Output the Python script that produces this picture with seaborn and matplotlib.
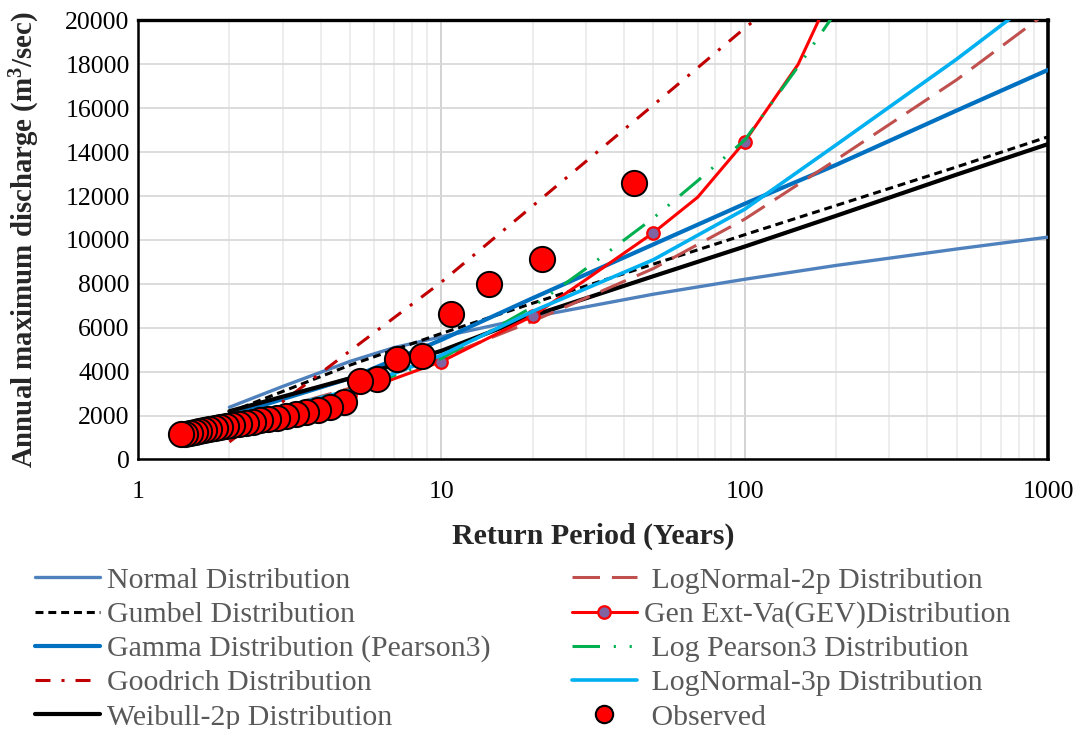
import numpy as np
import pandas as pd
import matplotlib
matplotlib.use("Agg")
import matplotlib.pyplot as plt
from matplotlib.lines import Line2D
from matplotlib.ticker import FixedLocator, NullFormatter
import seaborn as sns

# Return periods (years) at which the fitted distributions are evaluated
return_periods = [2, 5, 10, 20, 50, 100, 200, 500, 1000]
normal_periods = [2, 3, 5, 7, 10, 20, 50, 100, 200, 500, 1000]
gev_periods = [2, 5, 10, 20, 30, 50, 70, 100, 150, 200]
lp3_periods = [2, 5, 10, 20, 30, 50, 70, 100, 150, 200]
gev_marked_periods = [2, 5, 10, 20, 50, 100, 200]

# Fitted discharge quantiles (m3/s)
normal_q = [2380, 3330, 4470, 5100, 5590, 6500, 7530, 8210, 8840, 9590, 10130]
gumbel_q = [2150, 4300, 5740, 7120, 8900, 10240, 11570, 13330, 14700]
gamma_q = [2000, 3700, 5450, 7350, 9800, 11650, 13420, 15900, 17750]
goodrich_q = [800, 4950, 8080, 11550, 16150, 19650, 23000]
weibull_q = [2200, 3700, 4950, 6550, 8350, 9700, 11100, 12980, 14370]
lognormal2_q = [1700, 3250, 4650, 6300, 8700, 10950, 13650, 17300, 20400]
gev_q = [1650, 2950, 4460, 6540, 8200, 10330, 11950, 14480, 18000, 21700]
logpearson3_q = [1700, 3100, 4600, 6950, 8700, 11000, 12700, 14550, 17900, 20400]
lognormal3_q = [1800, 3150, 4750, 6750, 9100, 11400, 14330, 18240, 21400]

# Observed annual maxima with their return periods (n + 1) / rank
obs_rank = list(range(1, 32))
obs_return_period = [43 / m for m in obs_rank]
obs_discharge = [12600, 9130, 8000, 6650, 4720, 4560, 3670, 3590, 2640, 2370,
                 2240, 2150, 2060, 1980, 1910, 1840, 1780, 1720, 1660, 1610,
                 1560, 1510, 1460, 1420, 1370, 1330, 1290, 1250, 1210, 1180,
                 1150]

x_ticks = [1, 10, 100, 1000]
x_tick_labels = ["1", "10", "100", "1000"]
y_ticks = list(range(0, 20001, 2000))

sns.set_theme(style="white")
plt.rcParams["font.family"] = ["Liberation Serif", "DejaVu Serif"]
plt.rcParams["mathtext.fontset"] = "custom"
plt.rcParams["mathtext.rm"] = "Liberation Serif:bold"
plt.rcParams["mathtext.it"] = "Liberation Serif:bold"

fig = plt.figure(figsize=(10.81, 7.29), dpi=100)
ax = fig.add_axes([0.1277, 0.3697, 0.8418, 0.6022])

gev_marks = [gev_periods.index(t) for t in gev_marked_periods]

series = [
    ("Normal Distribution", normal_periods, normal_q,
     dict(color="#4F81BD", linewidth=2.4, linestyle="-")),
    ("Gumbel Distribution", return_periods, gumbel_q,
     dict(color="black", linewidth=2.2, linestyle=(0, (2.6, 1.6)))),
    ("Gamma Distribution (Pearson3)", return_periods, gamma_q,
     dict(color="#0070C0", linewidth=3.0, linestyle="-")),
    ("Goodrich Distribution", return_periods, goodrich_q,
     dict(color="#C00000", linewidth=2.2, linestyle=(0, (4.9, 3.6, 1.0, 3.6)))),
    ("Weibull-2p Distribution", return_periods, weibull_q,
     dict(color="black", linewidth=3.0, linestyle="-")),
    (" LogNormal-2p Distribution", return_periods, lognormal2_q,
     dict(color="#C0504D", linewidth=2.2, linestyle=(0, (9, 3.9)))),
    ("Gen Ext-Va(GEV)Distribution", gev_periods, gev_q,
     dict(color="#FF0000", linewidth=2.2, linestyle="-", marker="o", markersize=9,
          markerfacecolor="#8064A2", markeredgecolor="#FF0000", markeredgewidth=1.6)),
    (" Log Pearson3 Distribution", lp3_periods, logpearson3_q,
     dict(color="#00B050", linewidth=2.2, linestyle=(0, (9, 4.5, 0.7, 4.5, 0.7, 4.5)))),
    (" LogNormal-3p Distribution", return_periods, lognormal3_q,
     dict(color="#00B0F0", linewidth=2.6, linestyle="-")),
]

for label, periods, values, style in series:
    df = pd.DataFrame({"T": periods[:len(values)], "Q": values})
    kw = dict(style)
    if label.startswith("Gen Ext"):
        kw["markevery"] = gev_marks
    sns.lineplot(data=df, x="T", y="Q", ax=ax, sort=False, legend=False, zorder=3, **kw)

obs_df = pd.DataFrame({"T": obs_return_period, "Q": obs_discharge})
sns.scatterplot(data=obs_df, x="T", y="Q", ax=ax, s=330, color="#FF0000",
                edgecolor="black", linewidth=1.4, zorder=5, legend=False)

ax.set_xscale("log")
ax.set_xlim(1, 1000)
ax.set_ylim(0, 20000)
ax.xaxis.set_major_locator(FixedLocator(x_ticks))
ax.set_xticklabels(x_tick_labels)
minor = [m * d for d in (1, 10, 100) for m in range(2, 10)]
ax.xaxis.set_minor_locator(FixedLocator(minor))
ax.xaxis.set_minor_formatter(NullFormatter())
ax.set_yticks(y_ticks)
ax.set_yticklabels([str(v) for v in y_ticks])

ax.grid(which="major", axis="x", color="#D0D0D0", linewidth=1.3, zorder=0)
ax.grid(which="minor", axis="x", color="#E8E8E8", linewidth=1.1, zorder=0)
ax.grid(which="major", axis="y", color="#D9D9D9", linewidth=1.3, zorder=0)
ax.set_axisbelow(True)

for side in ["top", "right", "bottom", "left"]:
    ax.spines[side].set_visible(True)
    ax.spines[side].set_color("black")
ax.spines["top"].set_linewidth(2.4)
ax.spines["right"].set_linewidth(2.6)
ax.spines["bottom"].set_linewidth(1.8)
ax.spines["left"].set_linewidth(1.8)

ax.tick_params(axis="both", which="both", length=0, labelsize=18.5, colors="black")
ax.tick_params(axis="x", pad=15.5)
ax.tick_params(axis="y", pad=6)

ax.set_xlabel("Return Period (Years)", fontsize=21.5, fontweight="bold", labelpad=14)
ax.set_ylabel("Annual maximum discharge (m$^{3}$/sec)", fontsize=20.8, fontweight="bold")
ax.yaxis.set_label_coords(-0.106, 0.5)

# Legend handles
handles_left, handles_right = [], []
for i, (label, periods, values, style) in enumerate(series):
    h = Line2D([], [], label=label, **style)
    (handles_left if i < 5 else handles_right).append(h)
handles_right.append(Line2D([], [], linestyle="none", marker="o", markersize=12.5,
                            markerfacecolor="#FF0000", markeredgecolor="black",
                            markeredgewidth=1.5, label=" Observed"))

leg_kw = dict(frameon=False, fontsize=21.5, handlelength=2.17, handletextpad=0.23,
              labelspacing=0.24, borderaxespad=0, borderpad=0, labelcolor="#595959")
leg1 = fig.legend(handles=handles_left, loc="upper left", bbox_to_anchor=(0.0324, 0.2222), **leg_kw)
leg2 = fig.legend(handles=handles_right, loc="upper left", bbox_to_anchor=(0.529, 0.2222), **leg_kw)

fig.savefig("out.png", dpi=100)
